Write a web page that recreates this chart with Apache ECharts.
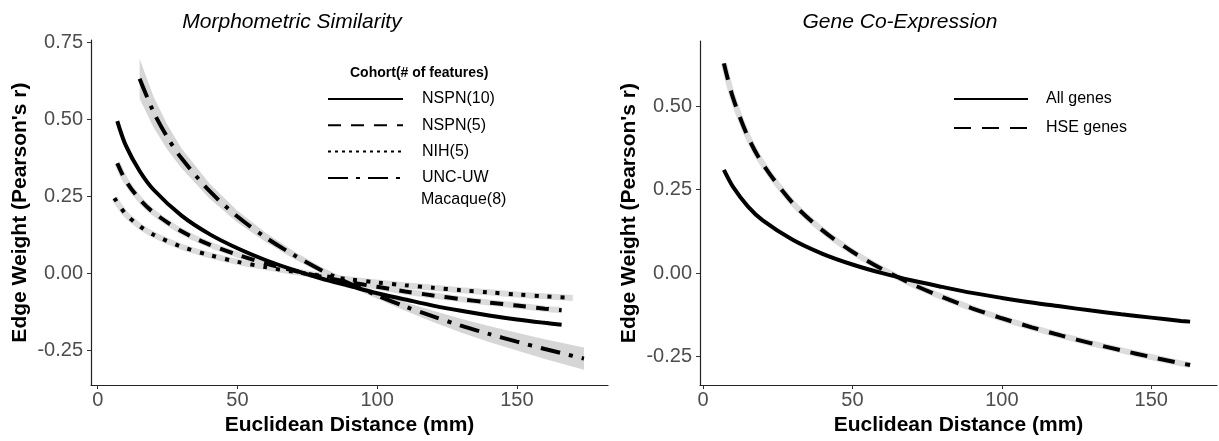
<!DOCTYPE html>
<html><head><meta charset="utf-8">
<script src="https://cdn.jsdelivr.net/npm/echarts@6/dist/echarts.min.js"></script>
<style>html,body{margin:0;padding:0;background:#fff}#c{width:1219px;height:441px}</style>
</head><body><div id="c"></div>
<script>
// ---- tick labels ----
const xTicks = [0, 50, 100, 150];
const yTicksLeft = [-0.25, 0, 0.25, 0.5, 0.75];
const yTicksRight = [-0.25, 0, 0.25, 0.5];

// ---- Morphometric Similarity ----
const nspn10X = [7, 10, 15, 20, 30, 40, 50, 60, 70, 80, 90, 100, 110, 120, 130, 140, 150, 160, 166];
const nspn10Y = [0.495, 0.417, 0.333, 0.272, 0.188, 0.128, 0.082, 0.044, 0.012, -0.016, -0.040, -0.064, -0.084, -0.104, -0.121, -0.136, -0.149, -0.160, -0.166];

const nspn5X = [7, 10, 15, 20, 30, 40, 50, 60, 70, 80, 90, 100, 110, 120, 130, 140, 150, 160, 166];
const nspn5Y = [0.358, 0.302, 0.241, 0.198, 0.137, 0.094, 0.061, 0.033, 0.010, -0.010, -0.028, -0.043, -0.058, -0.071, -0.083, -0.094, -0.104, -0.114, -0.119];

const nihX = [6, 10, 15, 20, 30, 40, 50, 60, 70, 80, 90, 100, 110, 120, 130, 140, 150, 160, 170];
const nihY = [0.245, 0.193, 0.154, 0.126, 0.087, 0.060, 0.038, 0.021, 0.006, -0.007, -0.019, -0.029, -0.038, -0.046, -0.054, -0.061, -0.068, -0.074, -0.079];

const macX = [15, 20, 25, 30, 40, 50, 60, 70, 80, 90, 100, 110, 120, 130, 140, 150, 160, 174];
const macY = [0.632, 0.524, 0.441, 0.374, 0.268, 0.185, 0.118, 0.061, 0.011, -0.032, -0.071, -0.107, -0.139, -0.169, -0.196, -0.221, -0.245, -0.276];
const macLo = [0.567, 0.474, 0.401, 0.342, 0.244, 0.166, 0.103, 0.049, 0.001, -0.042, -0.082, -0.121, -0.157, -0.191, -0.222, -0.250, -0.277, -0.312];
const macHi = [0.697, 0.574, 0.481, 0.406, 0.292, 0.204, 0.133, 0.073, 0.021, -0.022, -0.060, -0.093, -0.121, -0.147, -0.170, -0.192, -0.213, -0.240];

// ---- Gene Co-Expression ----
const allX = [7, 10, 15, 20, 30, 40, 50, 60, 70, 80, 90, 100, 110, 120, 130, 140, 150, 160, 163];
const allY = [0.309, 0.259, 0.200, 0.158, 0.100, 0.058, 0.026, 0.000, -0.022, -0.041, -0.059, -0.074, -0.088, -0.100, -0.112, -0.123, -0.133, -0.143, -0.145];
const hseX = [7, 10, 15, 20, 30, 40, 50, 60, 70, 80, 90, 100, 110, 120, 130, 140, 150, 160, 163];
const hseY = [0.628, 0.526, 0.409, 0.327, 0.210, 0.128, 0.064, 0.012, -0.033, -0.071, -0.105, -0.135, -0.162, -0.187, -0.210, -0.231, -0.251, -0.270, -0.275];

const FONT = '"Liberation Sans", Arial, Helvetica, sans-serif';
const zip = (xs, ys) => xs.map((x, i) => [x, ys[i]]);
const HALO = '#dcdcdc';
const SMOOTH = 0.3;

function halo(name, xs, ys, gi) {
  return { name: name + ' band', type: 'line', xAxisIndex: gi, yAxisIndex: gi, data: zip(xs, ys),
    smooth: SMOOTH, symbol: 'none', silent: true, z: 2,
    lineStyle: { color: HALO, width: 6 } };
}
function curve(name, xs, ys, gi, dash) {
  return { name: name, type: 'line', xAxisIndex: gi, yAxisIndex: gi, data: zip(xs, ys),
    smooth: SMOOTH, symbol: 'none', silent: true, z: 3,
    lineStyle: { color: '#000', width: 4, type: dash, cap: 'butt' } };
}

function xAxisOf(gi, min, max) {
  return { type: 'value', gridIndex: gi, min: min, max: max,
    name: 'Euclidean Distance (mm)', nameLocation: 'middle', nameGap: 27,
    nameTextStyle: { fontFamily: FONT, fontSize: 21, fontWeight: 'bold', color: '#000' },
    axisLine: { show: true, onZero: false, lineStyle: { color: '#222', width: 1.2 } },
    axisTick: { show: true, length: 4, customValues: xTicks, lineStyle: { color: '#333' } },
    axisLabel: { customValues: xTicks, margin: 5, fontFamily: FONT, fontSize: 20, color: '#4d4d4d',
      formatter: v => String(v) },
    splitLine: { show: false } };
}
function yAxisOf(gi, min, max, ticks) {
  return { type: 'value', gridIndex: gi, min: min, max: max,
    name: "Edge Weight (Pearson's r)", nameLocation: 'middle', nameGap: 60,
    nameTextStyle: { fontFamily: FONT, fontSize: 21, fontWeight: 'bold', color: '#000' },
    axisLine: { show: true, onZero: false, lineStyle: { color: '#222', width: 1.2 } },
    axisTick: { show: true, length: 4, customValues: ticks, lineStyle: { color: '#333' } },
    axisLabel: { customValues: ticks, margin: 8, fontFamily: FONT, fontSize: 20, color: '#4d4d4d',
      formatter: v => v.toFixed(2) },
    splitLine: { show: false } };
}

const legendText = { fontFamily: FONT, fontSize: 16, color: '#000', lineHeight: 16 };

const option = {
  animation: false,
  backgroundColor: '#fff',
  grid: [
    { left: 91, top: 40, width: 517, height: 350 },
    { left: 700, top: 41, width: 517, height: 349 }
  ],
  xAxis: [xAxisOf(0, -2.4, 182.6), xAxisOf(1, -1, 172)],
  yAxis: [yAxisOf(0, -0.362, 0.758, yTicksLeft), yAxisOf(1, -0.335, 0.695, yTicksRight)],
  legend: [
    { data: ['NSPN(10)', 'NSPN(5)', { name: 'NIH(5)', lineStyle: { type: [3, 4] } }],
      orient: 'vertical', left: 327, top: 91,
      itemWidth: 75, itemHeight: 16, itemGap: 10.3, padding: 0, selectedMode: false,
      itemStyle: { opacity: 0 }, textStyle: Object.assign({ padding: [0, 0, 0, 14] }, legendText) },
    { data: [{ name: 'UNC-UW Macaque(8)', lineStyle: { type: [20, 8, 4, 8] } }],
      orient: 'vertical', left: 327, top: 170,
      itemWidth: 75, itemHeight: 16, padding: 0, selectedMode: false,
      formatter: () => 'UNC-UW',
      itemStyle: { opacity: 0 }, textStyle: Object.assign({ padding: [0, 0, 0, 14] }, legendText) },
    { data: ['All genes', 'HSE genes'], orient: 'vertical', left: 953, top: 91,
      itemWidth: 74, itemHeight: 16, itemGap: 13, padding: 0, selectedMode: false,
      itemStyle: { opacity: 0 }, textStyle: Object.assign({ padding: [0, 0, 0, 13] }, legendText) }
  ],
  graphic: [
    { type: 'text', x: 292, y: 22, silent: true,
      style: { text: 'Morphometric Similarity', font: 'italic 21px ' + FONT, fill: '#000', align: 'center', verticalAlign: 'middle' } },
    { type: 'text', x: 900, y: 22, silent: true,
      style: { text: 'Gene Co-Expression', font: 'italic 21px ' + FONT, fill: '#000', align: 'center', verticalAlign: 'middle' } },
    { type: 'text', x: 350, y: 73, silent: true,
      style: { text: 'Cohort(# of features)', font: 'bold 14px ' + FONT, fill: '#000', align: 'left', verticalAlign: 'middle' } },
    { type: 'text', x: 421, y: 200, silent: true,
      style: { text: 'Macaque(8)', font: '16px ' + FONT, fill: '#000', align: 'left', verticalAlign: 'middle' } }
  ],
  series: [
    { name: 'macaque ribbon', type: 'custom', xAxisIndex: 0, yAxisIndex: 0, data: [[macX[0], macY[0]]],
      silent: true, z: 1,
      renderItem: function (params, api) {
        const pts = [];
        for (let i = 0; i < macX.length; i++) pts.push(api.coord([macX[i], macHi[i]]));
        for (let i = macX.length - 1; i >= 0; i--) pts.push(api.coord([macX[i], macLo[i]]));
        return { type: 'polygon', shape: { points: pts }, style: { fill: '#d6d6d6' } };
      } },
    halo('NSPN(5)', nspn5X, nspn5Y, 0),
    halo('NIH(5)', nihX, nihY, 0),
    halo('HSE genes', hseX, hseY, 1),
    curve('NSPN(10)', nspn10X, nspn10Y, 0, 'solid'),
    curve('NSPN(5)', nspn5X, nspn5Y, 0, [13, 10]),
    curve('NIH(5)', nihX, nihY, 0, [4, 9]),
    curve('UNC-UW Macaque(8)', macX, macY, 0, [20, 9, 4, 9]),
    curve('All genes', allX, allY, 1, 'solid'),
    curve('HSE genes', hseX, hseY, 1, [17, 11])
  ]
};

const chart = echarts.init(document.getElementById('c'), null, { renderer: 'canvas' });
chart.setOption(option);
</script>
</body></html>
